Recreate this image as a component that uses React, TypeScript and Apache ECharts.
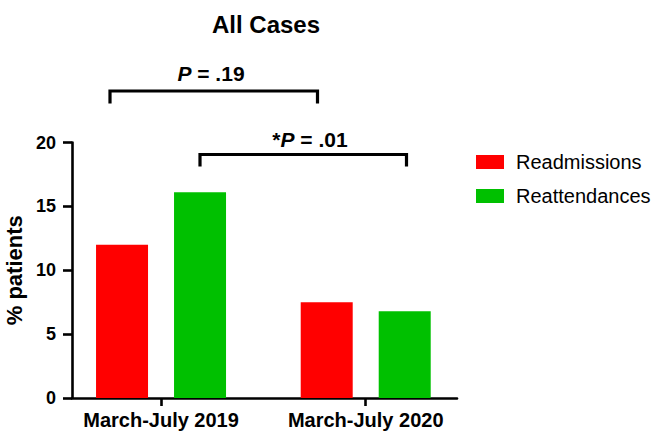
import React, { useEffect, useRef } from "react";
import * as echarts from "echarts";

const categories = ["March-July 2019", "March-July 2020"];
const seriesNames = ["Readmissions", "Reattendances"];
const readmissions = [12.0, 7.5];
const reattendances = [16.1, 6.8];
const yTicks = { min: 0, max: 20, interval: 5 };
const titleText = "All Cases";
const yAxisTitle = "% patients";
const pLabels = ["P = .19", "*P = .01"];

const FONT = "'Liberation Sans', Arial, Helvetica, sans-serif";

export default function App() {
  const ref = useRef<HTMLDivElement>(null);
  useEffect(() => {
    if (!ref.current) return;
    const chart = echarts.init(ref.current, null, { renderer: "svg" });
    const idx = categories.map((_, i) => i);
    const bracket = (x1: number, x2: number, yTop: number, yLeg: number) => ({
      type: "polyline",
      shape: { points: [[x1, yLeg], [x1, yTop], [x2, yTop], [x2, yLeg]] },
      style: { stroke: "#000", lineWidth: 3.2, fill: null, lineJoin: "miter" },
    });
    const pText = (s: string, x: number, y: number) => {
      const star = s.startsWith("*") ? "*" : "";
      const rest = s.replace(/^\*?P/, "");
      return {
        type: "text",
        x,
        y,
        style: {
          text: `${star}{i|P}${rest}`,
          font: `bold 21px ${FONT}`,
          fill: "#000",
          textAlign: "center",
          textVerticalAlign: "middle",
          rich: { i: { fontStyle: "italic", fontWeight: "bold", fontSize: 21, fontFamily: FONT } },
        },
      };
    };
    chart.setOption({
      animation: false,
      textStyle: { fontFamily: FONT },
      grid: {
        left: 72,
        right: 202,
        top: 142.5,
        bottom: 35,
        containLabel: false,
        outerBoundsMode: "none",
      },
      legend: {
        orient: "vertical",
        left: 471,
        top: 147,
        itemWidth: 28,
        itemHeight: 14,
        itemGap: 14,
        icon: "rect",
        data: seriesNames,
        textStyle: { fontSize: 20, color: "#000", fontFamily: FONT, padding: [0, 0, 0, 7] },
      },
      xAxis: {
        type: "value",
        min: -0.435,
        max: 1.446,
        splitLine: { show: false },
        axisLine: { show: true, onZero: false, lineStyle: { color: "#000", width: 2.6 } },
        axisTick: {
          show: true,
          customValues: idx,
          length: 8,
          lineStyle: { color: "#000", width: 2.6 },
        },
        axisLabel: {
          customValues: idx,
          formatter: (v: number) => categories[Math.round(v)] ?? "",
          fontSize: 20,
          fontWeight: "bold",
          color: "#000",
          margin: 12,
          fontFamily: FONT,
        },
      },
      yAxis: {
        type: "value",
        min: yTicks.min,
        max: yTicks.max,
        interval: yTicks.interval,
        name: yAxisTitle,
        nameLocation: "middle",
        nameGap: 44,
        nameRotate: 90,
        nameTextStyle: { fontSize: 22, fontWeight: "bold", color: "#000", fontFamily: FONT },
        splitLine: { show: false },
        axisLine: { show: true, onZero: false, lineStyle: { color: "#000", width: 2.6 } },
        axisTick: { show: true, length: 9, lineStyle: { color: "#000", width: 2.6 } },
        axisLabel: {
          fontSize: 18,
          fontWeight: "bold",
          color: "#000",
          margin: 16,
          fontFamily: FONT,
        },
      },
      series: [
        {
          name: seriesNames[0],
          type: "bar",
          barWidth: 52,
          barGap: "50%",
          itemStyle: { color: "#ff0000" },
          data: idx.map((i) => [i, readmissions[i]]),
        },
        {
          name: seriesNames[1],
          type: "bar",
          barWidth: 52,
          barGap: "50%",
          itemStyle: { color: "#00c000" },
          data: idx.map((i) => [i, reattendances[i]]),
        },
      ],
      graphic: [
        {
          type: "text",
          x: 266,
          y: 24,
          style: {
            text: titleText,
            font: `bold 24px ${FONT}`,
            fill: "#000",
            textAlign: "center",
            textVerticalAlign: "middle",
          },
        },
        pText(pLabels[0], 211, 73),
        bracket(110, 317.5, 91, 103.5),
        pText(pLabels[1], 310, 139),
        bracket(200, 406.5, 154.5, 166.5),
      ],
    });
    return () => chart.dispose();
  }, []);
  return (
    <div
      ref={ref}
      style={{ position: "absolute", left: 0, top: 0, width: 659, height: 433, background: "#fff" }}
    />
  );
}
